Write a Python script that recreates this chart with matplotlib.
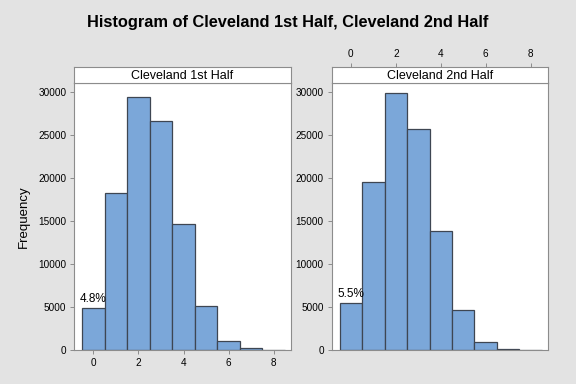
import numpy as np
import matplotlib
matplotlib.use("Agg")
import matplotlib.pyplot as plt

plt.rcParams['font.family'] = ['Liberation Sans', 'DejaVu Sans']

# goals per bin (bin centers 0..8)
goals = [0, 1, 2, 3, 4, 5, 6, 7, 8]
first_half = [4850, 18240, 29400, 26600, 14600, 5080, 1100, 200, 30]
second_half = [5450, 19500, 29800, 25600, 13850, 4600, 950, 120, 30]
panel_titles = ["Cleveland 1st Half", "Cleveland 2nd Half"]
pct_labels = ["4.8%", "5.5%"]

BG = '#e3e3e3'
SPINE = '#8c8c8c'
BAR = '#7ba7d9'
EDGE = '#3e4652'

fig = plt.figure(figsize=(5.76, 3.84), dpi=100, facecolor=BG)
W, H = 576, 384


def box(x0, y0, x1, y1):
    # pixel coords (top-left origin) -> figure fraction
    return [x0 / W, (H - y1) / H, (x1 - x0) / W, (y1 - y0) / H]


fig.text(0.5, 1 - 22 / H, "Histogram of Cleveland 1st Half, Cleveland 2nd Half",
         ha='center', va='center', fontsize=11.8, fontweight='bold')

panels = [(74, 291, first_half), (331.5, 548, second_half)]
for i, (x0, x1, counts) in enumerate(panels):
    ax = fig.add_axes(box(x0, 82.5, x1, 350))
    hd = fig.add_axes(box(x0, 67, x1, 82.5))
    ax.bar(goals, counts, width=1.0, color=BAR, edgecolor=EDGE, linewidth=0.9)
    ax.set_xlim(-0.86, 8.77)
    ax.set_ylim(0, 31050)
    ax.set_yticks([0, 5000, 10000, 15000, 20000, 25000, 30000])
    ax.set_xticks([0, 2, 4, 6, 8])
    for sp in ax.spines.values():
        sp.set_color(SPINE)
        sp.set_linewidth(0.8)
    ax.tick_params(colors=SPINE, labelcolor='black', labelsize=7.2, length=3, width=0.7, pad=2.5)
    ax.text(goals[0], counts[0] + 400, pct_labels[i], ha='center', va='bottom', fontsize=8.5)

    hd.set_xlim(ax.get_xlim())
    hd.set_yticks([])
    for sp in hd.spines.values():
        sp.set_color(SPINE)
        sp.set_linewidth(0.8)
    hd.text(0.5, 0.45, panel_titles[i], transform=hd.transAxes,
            ha='center', va='center', fontsize=9)
    if i == 0:
        hd.set_xticks([])
        ax.set_ylabel("Frequency", fontsize=9.5, labelpad=6)
    else:
        ax.tick_params(axis='x', labelbottom=False, bottom=False)
        hd.set_xticks([0, 2, 4, 6, 8])
        hd.tick_params(axis='x', top=True, labeltop=True, bottom=False, labelbottom=False,
                       colors=SPINE, labelcolor='black', labelsize=7.2, length=3, width=0.7, pad=2.5)

fig.savefig("out.png", dpi=100, facecolor=BG)
